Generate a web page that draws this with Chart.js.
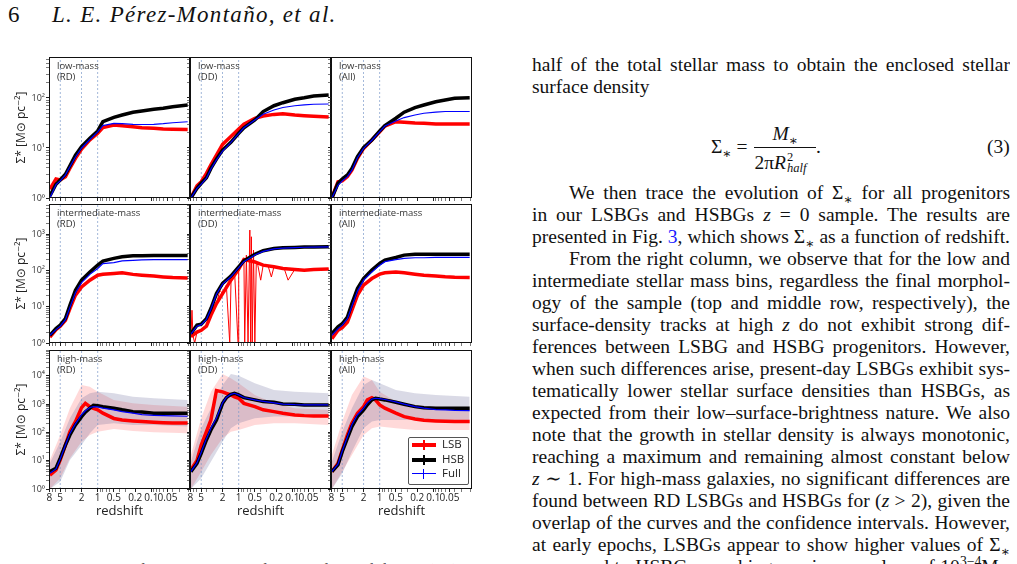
<!DOCTYPE html>
<html>
<head>
<meta charset="utf-8">
<script src="https://cdn.jsdelivr.net/npm/chart.js"></script>
<style>
  body { margin: 0; width: 1017px; height: 564px; overflow: hidden; background: #fff; position: relative; }
  canvas { position: absolute; }
  .serif { position: absolute; font-family: 'Liberation Serif', 'DejaVu Serif', serif; color: #111; }
  .col { left: 532px; width: 478px; font-size: 19.5px; line-height: 22px; }
  .col div { white-space: nowrap; overflow: hidden; }
  .j { text-align: justify; text-align-last: justify; }
  .ind { text-indent: 37px; }
  .lbl { position: absolute; font-family: 'Open Sans', 'DejaVu Sans', sans-serif; font-size: 9.5px; line-height: 10.5px; color: #333; }
  .link { color: #1a1aff; }
  sub, sup { font-size: 70%; line-height: 0; }
  .ss { display: inline-block; position: relative; width: 30px; height: 19.5px; }
  .ss span { position: absolute; left: 1px; font-size: 12.5px; line-height: 12px; }
  #legend { position: absolute; left: 408px; top: 437px; width: 59px; height: 46px; border: 1px solid #555; border-radius: 2px; background: #fff; font-family: 'Open Sans', 'DejaVu Sans', sans-serif; font-size: 11.5px; color: #222; }
  .item { position: absolute; left: 0; width: 59px; height: 14px; }
  .item .h { position: absolute; left: 3px; width: 24px; }
  .item .v { position: absolute; left: 14px; top: 2px; height: 10px; }
  .item span { position: absolute; left: 33px; top: -1px; line-height: 14px; }
</style>
</head>
<body>

<div class="serif" style="left:8px; top:2px; font-size:23px;">6</div>
<div class="serif" style="left:52px; top:2px; font-size:23px; font-style:italic; letter-spacing:1.3px;">L. E. Pérez-Montaño, et al.</div>

<div class="serif col" style="top:54px;">
  <div class="j">half of the total stellar mass to obtain the enclosed stellar</div>
  <div>surface density</div>
</div>

<div class="serif" style="left:711px; top:123px; font-size:19.5px; line-height:22px; white-space:nowrap;">
  Σ<sub>∗</sub> =
  <span style="display:inline-block; vertical-align:middle; text-align:center; margin-left:2px;">
    <span style="display:block; border-bottom:1px solid #111; padding:0 3px 2px 3px;"><i>M</i><sub>∗</sub></span>
    <span style="display:block; padding-top:1px;">2π<i>R</i><span class="ss"><span style="top:2px;">2</span><span style="top:13px; font-style:italic;">half</span></span></span>
  </span>.
</div>
<div class="serif" style="left:987px; top:136px; font-size:19.5px; line-height:22px;">(3)</div>

<div class="serif col" style="top:182px;">
  <div class="j ind">We then trace the evolution of Σ<sub>∗</sub> for all progenitors</div>
  <div class="j">in our LSBGs and HSBGs <i>z</i> = 0 sample. The results are</div>
  <div class="j">presented in Fig. <span class="link">3</span>, which shows Σ<sub>∗</sub> as a function of redshift.</div>
  <div class="j ind">From the right column, we observe that for the low and</div>
  <div class="j">intermediate stellar mass bins, regardless the final morphol-</div>
  <div class="j">ogy of the sample (top and middle row, respectively), the</div>
  <div class="j">surface-density tracks at high <i>z</i> do not exhibit strong dif-</div>
  <div class="j">ferences between LSBG and HSBG progenitors. However,</div>
  <div class="j">when such differences arise, present-day LSBGs exhibit sys-</div>
  <div class="j">tematically lower stellar surface densities than HSBGs, as</div>
  <div class="j">expected from their low–surface-brightness nature. We also</div>
  <div class="j">note that the growth in stellar density is always monotonic,</div>
  <div class="j">reaching a maximum and remaining almost constant below</div>
  <div class="j"><i>z</i> ∼ 1. For high-mass galaxies, no significant differences are</div>
  <div class="j">found between RD LSBGs and HSBGs for (<i>z</i> &gt; 2), given the</div>
  <div class="j">overlap of the curves and the confidence intervals. However,</div>
  <div class="j">at early epochs, LSBGs appear to show higher values of Σ<sub>∗</sub></div>
  <div class="j">compared to HSBGs, reaching maximum values of 10<sup>3−4</sup>M<sub>⊙</sub></div>
</div>

<div class="serif" style="left:20px; top:561px; font-size:15px; width:470px; white-space:nowrap; text-align:justify; text-align-last:justify;">Figure 3. Stellar surface density Σ<sub>∗</sub> as a function of redshift for low (top), intermediate</div>

<div id="legend">
  <div class="item" style="top:0px;"><div class="h" style="top:5px; height:4px; background:#ff0000;"></div><div class="v" style="width:2px; background:#ff0000;"></div><span>LSB</span></div>
  <div class="item" style="top:15px;"><div class="h" style="top:5px; height:4px; background:#000;"></div><div class="v" style="width:2px; background:#000;"></div><span>HSB</span></div>
  <div class="item" style="top:29px;"><div class="h" style="top:6px; height:1.3px; background:#0000ff;"></div><div class="v" style="width:1px; background:#0000ff;"></div><span>Full</span></div>
</div>

<script>
// redshift sampling used when reading the curves off the figure
const zGrid = [7.8, 6, 5, 4, 3.3, 2.6, 2, 1.4, 1, 0.8, 0.5, 0.35, 0.22, 0.15, 0.09, 0.06, 0.04, 0.021];
const zGridHigh = [7.8, 6, 5, 4, 3.3, 2.6, 2, 1.7, 1.4, 1.2, 1, 0.8, 0.5, 0.35, 0.22, 0.15, 0.09, 0.06, 0.04, 0.021];
const zBand = [7.8, 5, 3.3, 2, 1.4, 1, 0.5, 0.22, 0.09, 0.021];

const xTickMajor = [8, 5, 2, 1, 0.5, 0.2, 0.1, 0.05];
const xTickLabels = ['8', '5', '2', '1', '0.5', '0.2', '0.1', '0.05'];
const xTickMinor = [7, 6, 4, 3, 0.9, 0.8, 0.7, 0.6, 0.4, 0.3, 0.09, 0.08, 0.07, 0.06, 0.04, 0.03, 0.02];
const markerZ = [5, 2, 1];
const yMaxRow = [660, 6800, 81000];

const massNames = ['low-mass', 'intermediate-mass', 'high-mass'];
const sampleNames = ['RD', 'DD', 'All'];

// low-mass row
const lowRD_LSB = [1.5, 2.4, 2.3, 2.67, 3.93, 6.2, 9.5, 14.5, 19.7, 25.5, 28.8, 28, 26.7, 25.5, 24.8, 24, 23.7, 23.3];
const lowRD_HSB = [1.1, 1.88, 2.29, 2.98, 4.4, 7.2, 10.6, 15.6, 21.9, 33.6, 41, 45.7, 51.9, 55, 59.3, 62.1, 67, 72.4];
const lowRD_Full = [1.0, 1.85, 2.2, 2.9, 4.2, 6.6, 10, 14.8, 21, 28, 31, 30.6, 29.8, 29.5, 29.8, 30.6, 32, 33.5];
const lowDD_LSB = [1.0, 1.76, 2.12, 3.1, 4.6, 7.2, 11.8, 16.9, 24, 29.9, 39.3, 43.6, 47, 48.5, 45.7, 44.2, 43, 41.7];
const lowDD_HSB = [1.0, 1.56, 1.97, 2.55, 3.9, 6.0, 9.1, 13.0, 19.7, 25.4, 36.3, 53.5, 70, 80.5, 94, 101, 110, 115];
const lowDD_Full = [1.0, 1.56, 1.9, 2.5, 3.8, 5.8, 8.7, 13, 19.4, 25.4, 36.3, 47.4, 57.5, 64.6, 70, 73, 75, 75.8];
const lowAll_LSB = [1.0, 2.12, 2.2, 2.67, 3.6, 6.2, 9.8, 14.5, 21.2, 27.5, 33.6, 32.6, 31.6, 31.1, 30.2, 30.2, 30.2, 30.2];
const lowAll_HSB = [1.0, 1.97, 2.4, 2.9, 3.9, 6.7, 10.2, 14.5, 21.9, 28, 39.3, 52, 64, 72.4, 84.3, 91, 98.5, 101];
const lowAll_Full = [1.0, 1.8, 2.2, 2.67, 3.6, 6.4, 9.8, 14.3, 21.2, 27.5, 34.7, 40.6, 45.7, 49.5, 52, 53.7, 53.7, 53.7];

// intermediate-mass row
const intRD_LSB = [1.46, 2.34, 2.9, 4.2, 8.9, 20.8, 35, 54, 74, 79, 83, 86, 78, 74, 70, 66.5, 63.6, 62.4];
const intRD_HSB = [1.63, 2.5, 3.1, 4.7, 11, 28.5, 54, 91, 140, 181, 215, 238, 254, 254, 259, 259, 259, 259];
const intRD_Full = [1.63, 2.34, 2.9, 4.4, 9.6, 24.4, 46, 78, 113, 155, 165, 183, 190, 195, 200, 200, 200, 200];
const intDD_LSB = [1.5, 2.0, 2.24, 2.9, 5.8, 12.3, 23, 54, 110, 200, 172, 140, 126, 114, 107, 102, 107, 109];
const intDD_HSB = [1.82, 3.1, 3.3, 4.7, 8.9, 23, 44, 70, 126, 184, 280, 350, 405, 424, 433, 443, 443, 450];
const intDD_Full = [1.75, 2.9, 3.2, 4.5, 8.5, 22, 42, 67, 120, 175, 268, 335, 392, 415, 428, 436, 440, 445];
const intDD_noiseZ = [7.76, 7.44, 7.14, 6.63, 6.0, 4.98, 4.02, 3.29, 2.57, 2.26, 1.99, 1.7, 1.47, 1.39, 1.19, 1.03, 1.0, 0.89, 0.8, 0.773, 0.72, 0.67, 0.62, 0.6, 0.58, 0.56, 0.53, 0.5, 0.47, 0.44, 0.389, 0.35, 0.28, 0.246, 0.22, 0.17, 0.14, 0.12, 0.09, 0.06, 0.04, 0.021];
const intDD_noise = [1.47, 8.0, 1.63, 1.0, 2.0, 2.24, 2.9, 5.8, 12.3, 28.5, 23, 39, 1.0, 54, 83, 1.0, 110, 172, 215, 1.0, 265, 1.0, 1300, 1.0, 850, 1.0, 365, 1.0, 172, 140, 54, 140, 126, 66, 126, 114, 107, 54, 107, 102, 107, 109];
const intAll_LSB = [1.32, 2.24, 2.66, 3.8, 8.0, 20.8, 39.4, 60, 79, 86, 91, 86, 79, 74, 70, 66.6, 65, 64];
const intAll_HSB = [1.82, 2.8, 3.4, 5.2, 12.2, 32, 60, 102, 156, 194, 228, 265, 280, 280, 280, 280, 280, 280];
const intAll_Full = [1.63, 2.5, 3.1, 4.7, 10.3, 27, 54, 91, 140, 175, 200, 215, 224, 224, 230, 230, 230, 230];

// high-mass row
const highRD_LSB = [3.1, 4.7, 10.6, 35.8, 106, 240, 745, 1050, 810, 700, 625, 475, 310, 275, 253, 240, 228, 220, 215, 215];
const highRD_HSB = [4.1, 5.4, 12.2, 35.8, 81, 183, 360, 520, 715, 900, 880, 810, 715, 625, 540, 520, 475, 475, 470, 470];
const highRD_Full = [3.6, 5.1, 11.5, 35, 92, 200, 420, 580, 755, 810, 790, 715, 625, 540, 475, 420, 400, 390, 380, 370];
const highDD_LSB = [4.7, 10.1, 35.8, 106, 275, 3000, 2700, 2400, 2100, 1800, 1600, 1060, 810, 625, 540, 475, 412, 390, 380, 380];
const highDD_HSB = [4.1, 8.1, 18.2, 54, 121, 275, 1060, 1680, 2200, 2400, 2100, 1680, 1400, 1220, 1150, 1010, 980, 930, 930, 930];
const highDD_Full = [4.1, 8.5, 20, 60, 140, 320, 1100, 1700, 2200, 2400, 2100, 1700, 1400, 1250, 1100, 1000, 950, 930, 930, 930];
const highAll_LSB = [4.1, 8.1, 23.5, 81, 210, 475, 810, 1400, 1680, 1400, 930, 715, 475, 360, 297, 266, 253, 245, 240, 240];
const highAll_HSB = [4.1, 7.1, 20.8, 62, 160, 360, 625, 950, 1400, 1600, 1500, 1400, 1150, 980, 810, 745, 715, 715, 715, 715];
const highAll_Full = [4.1, 7.5, 22, 70, 185, 420, 700, 1100, 1500, 1600, 1550, 1450, 1200, 1000, 810, 720, 640, 620, 600, 590];

// confidence bands (high-mass only)
const highRD_LSB_hi = [10.6, 81, 710, 4700, 4100, 2700, 1400, 1060, 930, 810];
const highRD_LSB_lo = [1, 2.4, 12.2, 47, 81, 106, 132, 112, 100, 93];
const highRD_HSB_hi = [8.1, 47, 315, 1600, 2400, 2700, 2400, 1800, 1600, 1400];
const highRD_HSB_lo = [1, 1.8, 10.6, 36, 93, 183, 210, 183, 183, 160];
const highDD_LSB_hi = [16, 315, 2700, 11500, 8200, 5400, 2100, 1060, 715, 625];
const highDD_LSB_lo = [1, 4.1, 16, 62, 106, 121, 183, 210, 210, 183];
const highDD_HSB_hi = [9.2, 140, 715, 4700, 11500, 10000, 5400, 3150, 2700, 2400];
const highDD_HSB_lo = [1, 2.4, 9.2, 47, 140, 210, 315, 360, 360, 360];
const highAll_LSB_hi = [16, 240, 2100, 9300, 7100, 2700, 1220, 930, 810, 715];
const highAll_LSB_lo = [1, 4.1, 16, 81, 140, 160, 140, 121, 121, 121];
const highAll_HSB_hi = [9.2, 106, 715, 4700, 7100, 5400, 3150, 2400, 2100, 1800];
const highAll_HSB_lo = [1, 3.5, 20.8, 140, 240, 275, 275, 275, 275, 275];

const panels = [
  { row: 0, col: 0, z: zGrid, lsb: lowRD_LSB, hsb: lowRD_HSB, full: lowRD_Full },
  { row: 0, col: 1, z: zGrid, lsb: lowDD_LSB, hsb: lowDD_HSB, full: lowDD_Full },
  { row: 0, col: 2, z: zGrid, lsb: lowAll_LSB, hsb: lowAll_HSB, full: lowAll_Full },
  { row: 1, col: 0, z: zGrid, lsb: intRD_LSB, hsb: intRD_HSB, full: intRD_Full },
  { row: 1, col: 1, z: zGrid, lsb: intDD_LSB, hsb: intDD_HSB, full: intDD_Full, noiseZ: intDD_noiseZ, noise: intDD_noise },
  { row: 1, col: 2, z: zGrid, lsb: intAll_LSB, hsb: intAll_HSB, full: intAll_Full },
  { row: 2, col: 0, z: zGridHigh, lsb: highRD_LSB, hsb: highRD_HSB, full: highRD_Full,
    lsbHi: highRD_LSB_hi, lsbLo: highRD_LSB_lo, hsbHi: highRD_HSB_hi, hsbLo: highRD_HSB_lo },
  { row: 2, col: 1, z: zGridHigh, lsb: highDD_LSB, hsb: highDD_HSB, full: highDD_Full,
    lsbHi: highDD_LSB_hi, lsbLo: highDD_LSB_lo, hsbHi: highDD_HSB_hi, hsbLo: highDD_HSB_lo },
  { row: 2, col: 2, z: zGridHigh, lsb: highAll_LSB, hsb: highAll_HSB, full: highAll_Full,
    lsbHi: highAll_LSB_hi, lsbLo: highAll_LSB_lo, hsbHi: highAll_HSB_hi, hsbLo: highAll_HSB_lo }
];

// page geometry
const colLeft = [49, 190, 331];
const colWidth = 141;
const rowTop = [57, 204, 350];
const rowHeight = [141, 139, 139];
const xMin = 0.019, xMax = 8.1;

const family = "'Open Sans', 'DejaVu Sans', sans-serif";
Chart.defaults.font.family = family;

const sup = ['⁰', '¹', '²', '³', '⁴', '⁵'];
const pts = (zs, vs) => zs.map((z, i) => ({ x: z, y: vs[i] }));

function logTicks(max) {
  const t = [];
  for (let d = 1; d <= max; d *= 10) {
    for (let m = 1; m < 10; m++) {
      if (m * d <= max) t.push({ value: m * d, major: m === 1 });
    }
  }
  return t;
}

function xLabel(v) {
  const i = xTickMajor.findIndex(t => Math.abs(t - v) / t < 1e-6);
  return i >= 0 ? xTickLabels[i] : '';
}

function line(data, color, width, order) {
  return { data, borderColor: color, borderWidth: width, pointRadius: 0, fill: false, tension: 0, order };
}

function band(hi, lo, zs, color) {
  return [
    { data: pts(zs, hi), borderColor: 'rgba(0,0,0,0)', borderWidth: 1, backgroundColor: color, fill: '+1', pointRadius: 0, order: 8 },
    { data: pts(zs, lo), borderColor: 'rgba(0,0,0,0)', borderWidth: 1, fill: false, pointRadius: 0, order: 9 }
  ];
}

const frame = {
  id: 'frame',
  afterDatasetsDraw(chart) {
    const a = chart.chartArea, c = chart.ctx;
    c.save();
    c.strokeStyle = '#111';
    c.lineWidth = 1;
    c.strokeRect(a.left + 0.5, a.top + 0.5, a.right - a.left - 1, a.bottom - a.top - 1);
    c.restore();
  }
};

function makePanel(p) {
  const yMax = yMaxRow[p.row];
  const padL = p.col === 0 ? 49 : 8;
  const padR = 4, padT = 4;
  const padB = p.row === 2 ? 32 : 6;
  const left = colLeft[p.col] - padL;
  const top = rowTop[p.row] - padT;
  const w = padL + colWidth + padR;
  const h = padT + rowHeight[p.row] + padB;

  const canvas = document.createElement('canvas');
  canvas.width = w; canvas.height = h;
  canvas.style.left = left + 'px';
  canvas.style.top = top + 'px';
  canvas.style.width = w + 'px';
  canvas.style.height = h + 'px';
  document.body.appendChild(canvas);

  const datasets = [];
  datasets.push(line(pts(p.z, p.full), '#0000ff', 1.2, 0));
  datasets.push(line(pts(p.z, p.hsb), '#000000', 3.5, 1));
  datasets.push(line(pts(p.z, p.lsb), '#ff0000', 3.5, 2));
  if (p.noise) datasets.push(line(pts(p.noiseZ, p.noise), '#ff0000', 1, 3));
  markerZ.forEach(z => {
    datasets.push({ data: [{ x: z, y: 1 }, { x: z, y: yMax }], borderColor: 'rgba(120,150,200,0.85)',
      borderWidth: 0.8, borderDash: [2, 2], pointRadius: 0, fill: false, order: 6 });
  });
  if (p.lsbHi) {
    band(p.hsbHi, p.hsbLo, zBand, 'rgba(70,70,130,0.2)').forEach(d => datasets.push(d));
    band(p.lsbHi, p.lsbLo, zBand, 'rgba(255,0,0,0.15)').forEach(d => datasets.push(d));
  }

  new Chart(canvas, {
    type: 'line',
    data: { datasets },
    plugins: [frame],
    options: {
      responsive: false,
      animation: false,
      devicePixelRatio: 1,
      layout: { padding: { top: padT, right: padR, left: 0, bottom: 0 } },
      plugins: { legend: { display: false }, tooltip: { enabled: false } },
      scales: {
        x: {
          type: 'logarithmic', reverse: true, min: xMin, max: xMax,
          afterBuildTicks: s => {
            s.ticks = xTickMajor.map(v => ({ value: v, major: true }))
              .concat(xTickMinor.map(v => ({ value: v, major: false })))
              .sort((a, b) => b.value - a.value);
          },
          afterFit: s => { s.height = padB; s.paddingLeft = 0; s.paddingRight = 0; },
          ticks: { display: p.row === 2, autoSkip: false, minRotation: 0, maxRotation: 0, padding: 0,
            font: { size: 10 }, color: '#222', callback: v => xLabel(v) },
          grid: { drawOnChartArea: false, drawTicks: true, tickLength: 3, tickColor: '#222',
            tickWidth: c => (c.tick && c.tick.major ? 1 : 0.6) },
          border: { display: false },
          title: { display: p.row === 2, text: 'redshift', font: { size: 13 }, color: '#222', padding: { top: 0, bottom: 2 } }
        },
        y: {
          type: 'logarithmic', min: 1, max: yMax,
          afterBuildTicks: s => { s.ticks = logTicks(yMax); },
          afterFit: s => { s.width = padL; s.paddingTop = 0; s.paddingBottom = 0; },
          ticks: { display: p.col === 0, autoSkip: false, padding: 1, font: { size: 9 }, color: '#333',
            callback: v => {
              const e = Math.log10(v);
              return Math.abs(e - Math.round(e)) < 1e-9 ? '10' + sup[Math.round(e)] : '';
            } },
          grid: { drawOnChartArea: false, drawTicks: true, tickLength: 3, tickColor: '#222',
            tickWidth: c => (c.tick && c.tick.major ? 1 : 0.6) },
          border: { display: false },
          title: { display: p.col === 0, text: 'Σ* [M⊙ pc⁻²]', font: { size: 12 }, color: '#222', padding: { top: 14, bottom: 0 } }
        }
      }
    }
  });

  const lbl = document.createElement('div');
  lbl.className = 'lbl';
  lbl.style.left = (colLeft[p.col] + 8) + 'px';
  lbl.style.top = (rowTop[p.row] + 4) + 'px';
  lbl.innerHTML = massNames[p.row] + '<br>(' + sampleNames[p.col] + ')';
  document.body.appendChild(lbl);
}

panels.forEach(makePanel);

// keep the legend above the panel canvases
document.body.appendChild(document.getElementById('legend'));

// squeeze any text line that is wider than the column
document.querySelectorAll('.col div').forEach(el => {
  let ls = 0;
  while (el.scrollWidth > el.clientWidth + 0.5 && ls > -2) {
    ls -= 0.1;
    el.style.letterSpacing = ls.toFixed(2) + 'px';
  }
});
</script>
</body>
</html>
